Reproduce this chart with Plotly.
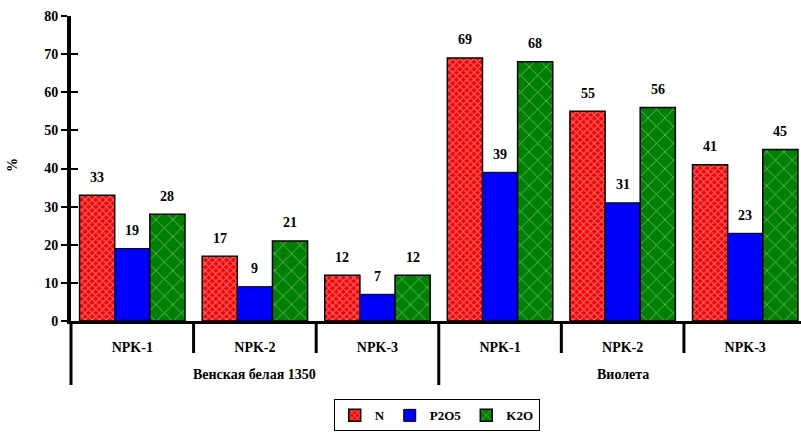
import plotly.graph_objects as go

# Data: nutrient uptake (%) by variety and fertiliser treatment
varieties = ["Венская белая 1350", "Виолета"]
treatments = ["NPK-1", "NPK-2", "NPK-3"]
n_vals = [33, 17, 12, 69, 55, 41]
p2o5_vals = [19, 9, 7, 39, 31, 23]
k2o_vals = [28, 21, 12, 68, 56, 45]
y_ticks = [0, 10, 20, 30, 40, 50, 60, 70, 80]

series = [
    ("N", n_vals, "#ff0000", dict(shape="x", fgcolor="white", bgcolor="#ff0000", size=5, solidity=0.35, fillmode="overlay")),
    ("P2O5", p2o5_vals, "#0000ff", None),
    ("K2O", k2o_vals, "#008000", dict(shape="x", fgcolor="white", bgcolor="#008000", size=12, solidity=0.12, fillmode="overlay")),
]

labels = treatments * len(varieties)
xs = list(range(len(labels)))

FONT = "Liberation Serif"
FS = 14
BARGAP = 0.14
X0, X1 = -0.5, 5.455  # visible x range (last group runs to the page edge)

fig = go.Figure()
for name, vals, color, pattern in series:
    marker = dict(color=color, line=dict(color="black", width=1.5 if pattern else 1))
    if pattern:
        marker["pattern"] = pattern
    fig.add_trace(go.Bar(x=xs, y=vals, name=name, marker=marker))

# Value labels above each bar
nser = len(series)
bw = (1 - BARGAP) / nser
annotations = []
for j, (name, vals, color, pattern) in enumerate(series):
    off = (j - (nser - 1) / 2) * bw
    for i, v in enumerate(vals):
        annotations.append(dict(x=i + off, y=v, xref="x", yref="y", text=str(v),
                                showarrow=False, yshift=18,
                                font=dict(family=FONT, size=FS, color="black", weight="bold")))

def to_paper(xv):
    return (xv - X0) / (X1 - X0)

# Group dividers below the category axis
shapes = []
n_per = len(treatments)
for k in range(len(labels) + 1):
    b = k - 0.5
    if b > X1:
        continue
    long = (k % n_per == 0)
    shapes.append(dict(type="line", xref="paper", yref="paper",
                       x0=to_paper(b), x1=to_paper(b), y0=0, y1=-0.21 if long else -0.105,
                       line=dict(color="black", width=3)))

# Variety labels
for vi, vname in enumerate(varieties):
    c = vi * n_per + (n_per - 1) / 2
    annotations.append(dict(x=to_paper(c), y=-0.177, xref="paper", yref="paper", text=vname,
                            showarrow=False, xanchor="center", yanchor="middle",
                            font=dict(family=FONT, size=FS, color="black", weight="bold")))

# Y axis title
annotations.append(dict(x=-0.08, y=0.51, xref="paper", yref="paper", text="%", textangle=-90,
                        showarrow=False, xanchor="center", yanchor="middle",
                        font=dict(family=FONT, size=FS, color="black", weight="bold")))

fig.update_layout(
    width=801, height=433,
    margin=dict(l=71, r=0, t=16, b=112),
    paper_bgcolor="white", plot_bgcolor="white",
    barmode="group", bargap=BARGAP, bargroupgap=0,
    font=dict(family=FONT, size=FS, color="black", weight="bold"),
    xaxis=dict(range=[X0, X1], tickmode="array", tickvals=xs, ticktext=labels,
               showline=True, linecolor="black", linewidth=3, ticks="",
               showgrid=False, zeroline=False, ticklabelstandoff=11,
               tickfont=dict(family=FONT, size=FS, weight="bold")),
    yaxis=dict(range=[0, 80], tickvals=y_ticks, showline=True, linecolor="black", linewidth=4,
               ticks="outside", ticklen=6, tickwidth=2, tickcolor="black",
               showgrid=False, zeroline=False,
               tickfont=dict(family=FONT, size=FS, weight="bold")),
    yaxis2=dict(overlaying="y", matches="y", anchor="x", range=[0, 80], tickvals=y_ticks, side="left",
                ticks="inside", ticklen=7, tickwidth=2, tickcolor="black",
                showticklabels=False, showgrid=False, showline=False, zeroline=False),
    legend=dict(orientation="h", x=0.501, xanchor="center", y=-0.362, yanchor="bottom",
                bordercolor="black", borderwidth=1, bgcolor="white",
                font=dict(family=FONT, size=13, weight="bold"),
                itemwidth=30, tracegroupgap=0),
    shapes=shapes,
    annotations=annotations,
    showlegend=True,
)
# Empty trace on yaxis2 so its inner tick marks are drawn
fig.add_trace(go.Scatter(x=[0], y=[None], yaxis="y2", showlegend=False, hoverinfo="skip"))

fig.write_html("out.html")
